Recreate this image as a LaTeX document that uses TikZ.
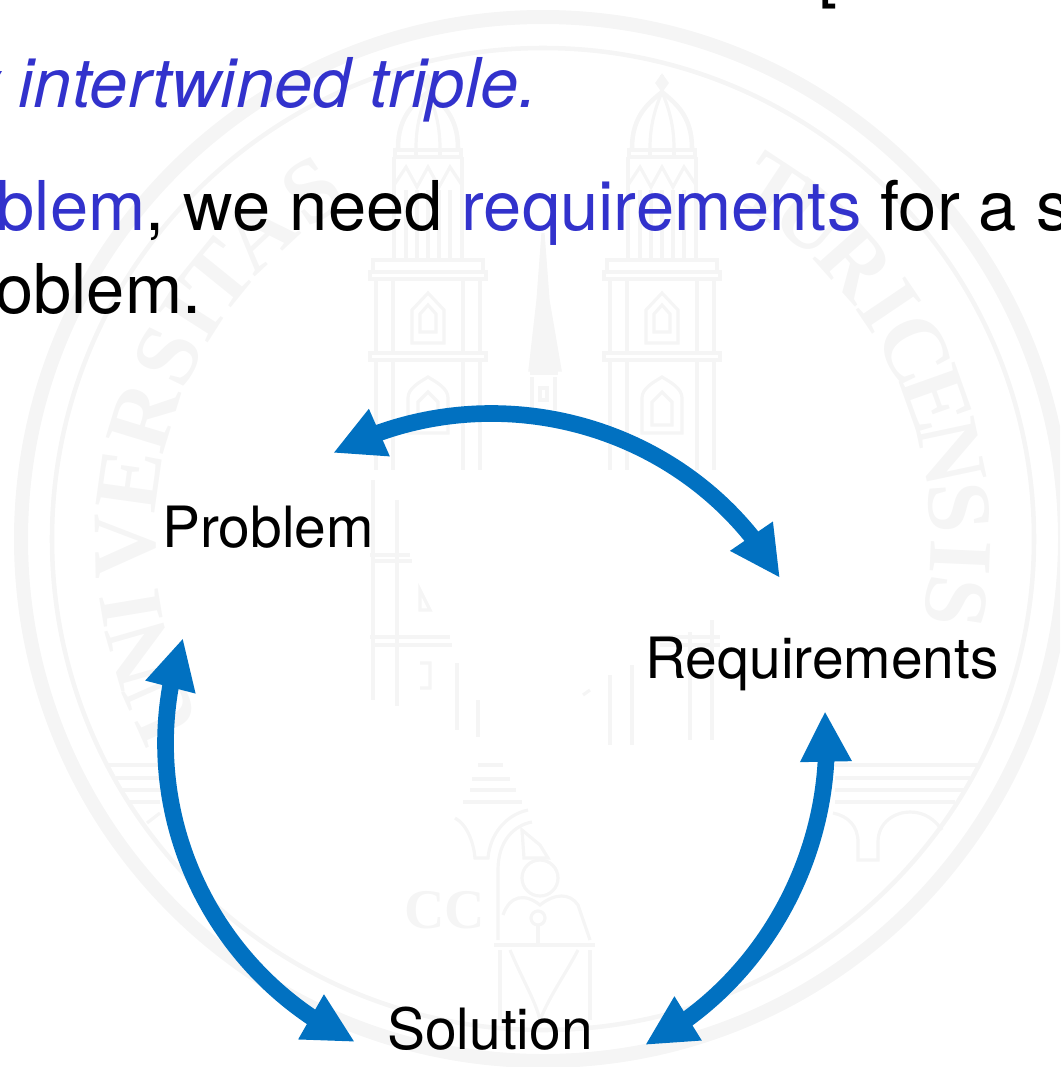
\documentclass[tikz,border=0pt]{standalone}
\usepackage{fontspec}
\setmainfont{TeX Gyre Heros}
\newfontfamily\sealfont{Liberation Serif}
\usetikzlibrary{arrows.meta,bending}
\definecolor{wmgray}{HTML}{F5F5F5}
\definecolor{bodyblue}{HTML}{3232CC}
\definecolor{arrowblue}{HTML}{0171C1}
\tikzset{
  wm/.style={draw=wmgray,line width=2.4pt,fill=none},
  wmthick/.style={draw=wmgray,line width=3.4pt,fill=none},
  bodytext/.style={anchor=base west,inner sep=0pt,font=\fontsize{51.5}{60}\selectfont},
  label/.style={anchor=base,inner sep=0pt,font=\fontsize{42.7}{50}\selectfont},
  sealletter/.style={anchor=base,inner sep=0pt,text=wmgray,font=\sealfont\bfseries\fontsize{68}{70}\selectfont},
  link/.style={draw=arrowblue,line width=12.5pt,
    {Triangle[length=38pt,width=36pt,color=arrowblue]}-{Triangle[length=38pt,width=36pt,color=arrowblue]}},
  tower/.pic={
    \draw[wm] (0,75)--(0,92);
    \draw[wm,fill=wmgray] (0,76)--(5,83)--(0,90)--(-5,83)--cycle;
    \draw[wmthick] (-30,148) .. controls (-30,115) and (-12,102) .. (0,92) .. controls (12,102) and (30,115) .. (30,148);
    \draw[wm] (-12,148) .. controls (-12,122) and (-5,104) .. (0,92) .. controls (5,104) and (12,122) .. (12,148);
    \draw[wm] (-33,150) rectangle (33,157);
    \draw[wm] (-12,150)--(-12,157) (12,150)--(12,157);
    \draw[wm] (-34,157)--(-34,260) (34,157)--(34,260);
    \draw[wm] (-34,185)--(-22,167)--(-11,187)--(0,167)--(11,187)--(22,167)--(34,185);
    \draw[wm] (-22,190)--(-22,260) (-11,190)--(-11,260) (0,190)--(0,260) (11,190)--(11,260) (22,190)--(22,260);
    \draw[wm] (-55,260) rectangle (55,272);
    \draw[wm] (-58,272) rectangle (58,279);
    \draw[wm] (-52,279)--(-52,353) (-35,279)--(-35,353) (35,279)--(35,353) (52,279)--(52,353);
    \draw[wm] (-16,343)--(-16,310)--(0,293)--(16,310)--(16,343)--cycle;
    \draw[wm] (-8,332)--(-8,314)--(0,305)--(8,314)--(8,332)--cycle;
    \draw[wm] (-58,353) rectangle (58,360);
    \draw[wm] (-52,360)--(-52,470) (-35,360)--(-35,470) (35,360)--(35,470) (52,360)--(52,470);
    \draw[wm] (-20,433)--(-20,398) .. controls (-20,388) and (-8,382) .. (0,377) .. controls (8,382) and (20,388) .. (20,398)--(20,433)--cycle;
    \draw[wm] (-10,425)--(-10,402)--(0,392)--(10,402)--(10,425)--cycle;
  }
}
\begin{document}
\begin{tikzpicture}[x=0.75pt,y=-0.75pt]
\useasboundingbox (0,0) rectangle (1060,1067);
\clip (0,0) rectangle (1060,1067);
% seal watermark
\draw[draw=wmgray,line width=10.5pt] (543,539) circle[radius=522];
\draw[wmthick] (543,539) circle[radius=491];
\foreach \ch/\ang/\idx in {U/204/1,N/196/2,I/189.5/3,V/181/4,E/172/5,R/163/6,S/154/7,I/147.5/8,T/141/9,A/133/10,S/123.5/11,
  T/56.5/12,U/50/13,R/41.5/14,I/34/15,C/27/16,E/19.6/17,N/12/18,S/4.4/19,I/-2.5/20,S/-8.7/21}
  \node[sealletter,rotate=\ang-90] (seal\idx) at ({543+388*cos(\ang)},{539-388*sin(\ang)}) {\ch};
\pic at (428,0) {tower};
\pic at (662,0) {tower};
% spire
\draw[wm,fill=wmgray] (543,233)--(548,300)--(560,370)--(530,370)--(538,300)--cycle;
\draw[wm] (532,377)--(532,410) (555,377)--(555,410) (530,373)--(558,373);
\draw[wm] (540,388) rectangle (547,400);
% lower tower fragments
\draw[wm] (373,480)--(373,700) (397,500)--(397,706);
\draw[wm] (370,555)--(410,555) (372,561)--(412,561) (370,637)--(450,637) (372,645)--(452,645);
\draw[wm] (420,590)--(430,610)--(420,610)--cycle (420,663)--(430,663)--(430,688)--(420,688);
\draw[wm] (457,663)--(457,730) (478,700)--(478,737);
\draw[wm] (610,675)--(610,745) (632,665)--(632,745);
\draw[wm] (690,632)--(690,740) (712,620)--(712,740) (660,637)--(720,637) (660,645)--(720,645);
\draw[wm] (583,695)--(590,690);
% bridge, left and right
\draw[wm] (108,765)--(160,765) (116,778)--(160,778) (122,790)--(160,790) (128,802)--(160,802);
\draw[wm] (147,823)--(160,813);
\draw[wm] (835,765)--(978,765) (835,778)--(970,778) (835,790)--(965,790) (835,802)--(955,802);
\draw[wm] (833,813) .. controls (848,816) and (858,826) .. (858,842)--(858,860)--(878,860)--(878,842) .. controls (878,822) and (895,812) .. (910,812) .. controls (925,812) and (935,820) .. (942,830);
% centre steps
\draw[wm] (478,765)--(503,765) (472,779)--(510,779) (470,790)--(516,790) (463,802)--(522,802);
% arch and figure
\draw[wm] (455,818) .. controls (468,825) and (474,845) .. (475,858)--(488,858)
  .. controls (490,835) and (505,815) .. (528,810);
\draw[wm] (498,940)--(498,870) .. controls (498,840) and (515,825) .. (532,822);
\draw[wm] (522,830)--(540,845)--(548,858)--(524,858)--cycle;
\draw[wm] (540,878) circle[radius=18];
\draw[wm] (503,915) .. controls (510,895) and (525,893) .. (540,905) .. controls (555,893) and (570,893) .. (578,905)--(590,940);
\draw[wm] (494,945)--(595,945);
\draw[wm] (500,950)--(500,1020) (590,950)--(590,1020);
\draw[wm] (510,950) .. controls (525,985) and (535,1000) .. (540,1020) .. controls (550,995) and (565,975) .. (578,950);
\draw[wm] (538,945)--(538,925);
\draw[wm] (538,918) circle[radius=7];
\node[sealletter,font=\sealfont\bfseries\fontsize{42}{44}\selectfont] (cc) at (445,928) {CC};
% body text
\node[bodytext] (top) at (818,-5) {[};
\node[bodytext,text=bodyblue] (line1) at (-35,107) {\itshape y intertwined triple.};
\node[bodytext] (line2) at (-3.5,230) {\textcolor{bodyblue}{blem}, we need \textcolor{bodyblue}{requirements} for a s};
\node[bodytext] (line3) at (-5,313) {oblem.};
% labels
\node[label] (prob) at (268,547) {Problem};
\node[label] (req) at (822,678) {Requirements};
\node[label] (sol) at (490,1049) {Solution};
% connectors
\draw[link] ([shift={(65,-94)}]prob.base) .. controls +(160,-85) and +(-88,-153) .. ([shift={(-42,-100)}]req.base);
\draw[link] ([shift={(3,33)}]req.base) .. controls +(13,135) and +(121,-62) .. ([shift={(155,-4)}]sol.base);
\draw[link] ([shift={(-135,-7)}]sol.base) .. controls +(-151,-72) and +(-54,159) .. ([shift={(-85,91)}]prob.base);
\end{tikzpicture}
\end{document}
